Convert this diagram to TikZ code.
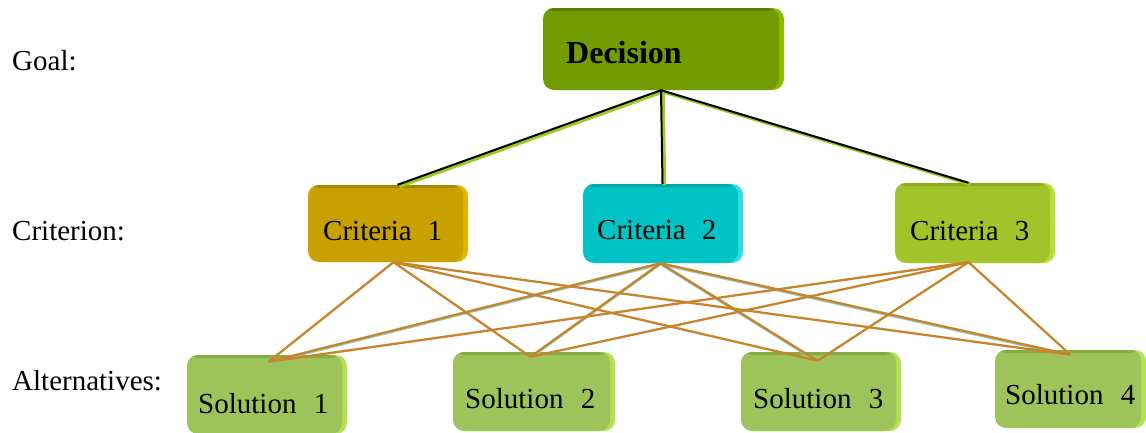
\documentclass[tikz,border=0pt]{standalone}
\usepackage{fontspec}
\setmainfont{Liberation Serif}
\usetikzlibrary{calc}
\definecolor{decmain}{HTML}{739C00}
\definecolor{decdark}{HTML}{5C7D00}
\definecolor{decbev}{HTML}{8DBB00}
\definecolor{camain}{HTML}{C8A000}
\definecolor{cadark}{HTML}{A88700}
\definecolor{cabev}{HTML}{E0B800}
\definecolor{cbmain}{HTML}{00C3C6}
\definecolor{cbdark}{HTML}{00A5A8}
\definecolor{cbbev}{HTML}{30DDE0}
\definecolor{ccmain}{HTML}{A2C42A}
\definecolor{ccdark}{HTML}{8AAA1A}
\definecolor{ccbev}{HTML}{B8E030}
\definecolor{solmain}{HTML}{9DC45A}
\definecolor{soldark}{HTML}{86AD45}
\definecolor{solbev}{HTML}{B5E050}
\definecolor{linkor}{HTML}{C8842C}
\definecolor{linkteal}{HTML}{8FD0C0}
\definecolor{linkgreen}{HTML}{9ACD20}
\tikzset{
  box/.style n args={3}{draw=none, fill=#1, rounded corners=11pt, inner sep=0pt,
    preaction={fill=#3, transform canvas={xshift=5pt}},
    path picture={\fill[#2] (path picture bounding box.north west) rectangle ([yshift=-3pt]path picture bounding box.north east);}},
  txt/.style={font=\fontsize{29}{31}\selectfont, inner sep=0pt, anchor=base west},
  toplink/.style={draw=black, line width=2pt},
  topshadow/.style={draw=linkgreen, line width=3.4pt, transform canvas={xshift=2pt,yshift=-1.5pt}},
  lowlink/.style={draw=linkor, line width=2.3pt},
  lowshadow/.style={draw=linkteal, line width=1.4pt, transform canvas={yshift=-1.5pt}},
}
\begin{document}
\begin{tikzpicture}[x=1pt,y=-1pt]
\useasboundingbox (0,0) rectangle (1146,432);
% boxes
\node[box={decmain}{decdark}{decbev}, minimum width=236pt, minimum height=82pt] (d) at (661,49) {};
\node[box={camain}{cadark}{cabev}, minimum width=155pt, minimum height=77pt] (c1) at (385.5,223.5) {};
\node[box={cbmain}{cbdark}{cbbev}, minimum width=155pt, minimum height=79pt] (c2) at (660.5,223.5) {};
\node[box={ccmain}{ccdark}{ccbev}, minimum width=155pt, minimum height=80pt] (c3) at (972.5,223) {};
\node[box={solmain}{soldark}{solbev}, minimum width=155pt, minimum height=79pt] (s1) at (264.5,394.5) {};
\node[box={solmain}{soldark}{solbev}, minimum width=157pt, minimum height=79pt] (s2) at (531.5,391.5) {};
\node[box={solmain}{soldark}{solbev}, minimum width=155pt, minimum height=79pt] (s3) at (818.5,391.5) {};
\node[box={solmain}{soldark}{solbev}, minimum width=146pt, minimum height=78pt] (s4) at (1068,389) {};
% connector ends
\coordinate (db) at (d.south);
\coordinate (c1t) at ($(c1.north)+(12,0)$);
\coordinate (c2t) at ($(c2.north)+(2,0)$);
\coordinate (c3t) at ($(c3.north)+(-4,0)$);
\coordinate (c1b) at ($(c1.south)+(8,0)$);
\coordinate (c2b) at (c2.south);
\coordinate (c3b) at ($(c3.south)+(-4,-1)$);
\coordinate (s1t) at ($(s1.north)+(4,7)$);
\coordinate (s2t) at ($(s2.north)+(-1,5)$);
\coordinate (s3t) at ($(s3.north)+(-1,9)$);
\coordinate (s4t) at ($(s4.north)+(2.5,5)$);
% top connectors
\foreach \c in {c1t,c2t,c3t} {
  \path[topshadow] (db) -- (\c);
  \path[toplink] (db) -- (\c);
}
% lower connectors
\foreach \s in {s1t,s2t,s3t,s4t} {
  \path[lowshadow] (c2b) -- (\s);
}
\foreach \c in {c1b,c2b,c3b} {
  \foreach \s in {s1t,s2t,s3t,s4t} {
    \path[lowlink] (\c) -- (\s);
  }
}
% texts
\node[txt] (lg) at (12,70) {Goal:};
\node[txt] (lc) at (12,240) {Criterion:};
\node[txt] (la) at (12,390) {Alternatives:};
\node[txt, font=\fontsize{32}{34}\selectfont\bfseries] (td) at (566,63) {Decision};
\node[txt] (tc1) at (323,240) {Criteria\hspace{0.55em}1};
\node[txt] (tc2) at (597,239) {Criteria\hspace{0.55em}2};
\node[txt] (tc3) at (910,240) {Criteria\hspace{0.55em}3};
\node[txt] (ts1) at (198,413) {Solution\hspace{0.6em}1};
\node[txt] (ts2) at (465,408) {Solution\hspace{0.6em}2};
\node[txt] (ts3) at (753,408) {Solution\hspace{0.6em}3};
\node[txt] (ts4) at (1005,404) {Solution\hspace{0.6em}4};
\end{tikzpicture}
\end{document}
